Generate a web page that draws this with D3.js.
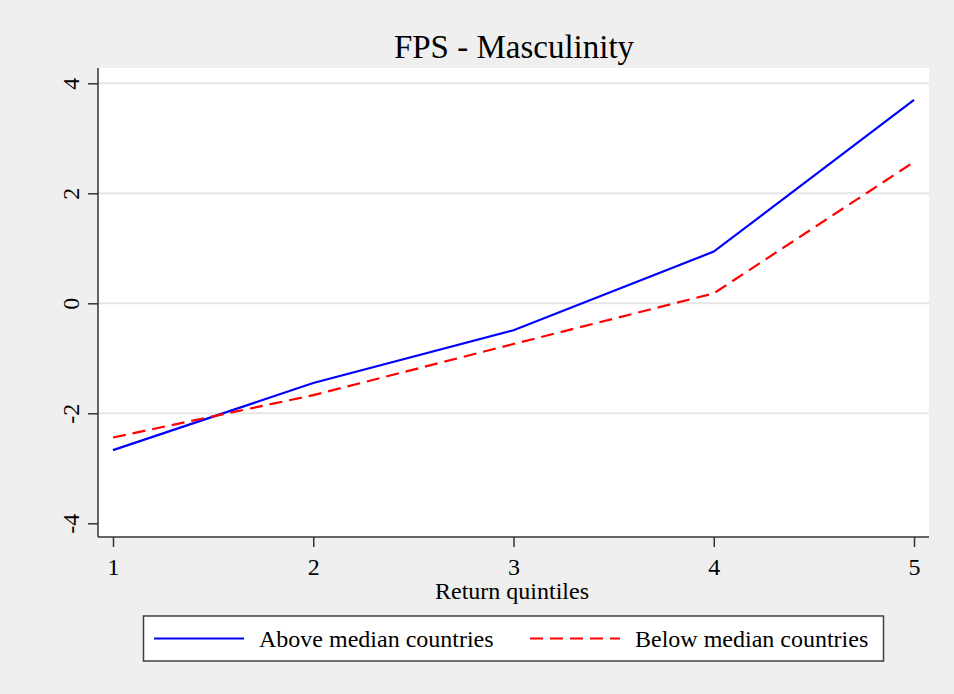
<!DOCTYPE html>
<html><head><meta charset="utf-8">
<script src="https://cdn.jsdelivr.net/npm/d3@7"></script>
<style>body{margin:0;background:#efefef}svg{display:block}</style>
</head><body>
<script>
const categories = [1, 2, 3, 4, 5];
const above = [-2.67, -1.45, -0.49, 0.94, 3.70];
const below = [-2.44, -1.67, -0.74, 0.18, 2.57];
const yTicks = [-4, -2, 0, 2, 4];
const yTickLabels = ["-4", "-2", "0", "2", "4"];
const gridTicks = [-2, 0, 2, 4];
const seriesNames = ["Above median countries", "Below median countries"];

const W = 954, H = 694;
const font = "'Liberation Serif','Times New Roman',serif";
const svg = d3.select("body").append("svg").attr("width", W).attr("height", H);
svg.append("rect").attr("width", W).attr("height", H).attr("fill", "#efefef");

const L = 98, R = 929, T = 68, B = 537;
const x = d3.scaleLinear().domain([1, 5]).range([113, 914]);
const y = d3.scaleLinear().domain([0, 4]).range([303.3, 83.3]);

svg.append("rect").attr("x", L).attr("y", T).attr("width", R - L).attr("height", B - T).attr("fill", "#fff");

svg.append("g").selectAll("line").data(gridTicks).join("line")
  .attr("x1", L).attr("x2", R).attr("y1", d => y(d)).attr("y2", d => y(d))
  .attr("stroke", "#e6e6e6").attr("stroke-width", 2);

// axes
const yAxis = svg.append("g").attr("transform", `translate(${L},0)`)
  .call(d3.axisLeft(y).tickValues(yTicks).tickSize(10).tickFormat((d, i) => yTickLabels[i]));
yAxis.select(".domain").attr("d", `M0,${T}V${B}`).attr("stroke", "#333").attr("stroke-width", 1.5);
yAxis.selectAll(".tick line").attr("stroke", "#333").attr("stroke-width", 1.5);
yAxis.selectAll(".tick text").attr("font-family", font).attr("font-size", 24).attr("fill", "#000")
  .attr("x", 0).attr("dy", 0).attr("text-anchor", "middle")
  .attr("transform", "translate(-19.5,0) rotate(-90)");

const xAxis = svg.append("g").attr("transform", `translate(0,${B})`)
  .call(d3.axisBottom(x).tickValues(categories).tickSize(10).tickFormat(d => String(d)));
xAxis.select(".domain").attr("d", `M${L},0H${R}`).attr("stroke", "#333").attr("stroke-width", 1.5);
xAxis.selectAll(".tick line").attr("stroke", "#333").attr("stroke-width", 1.5);
xAxis.selectAll(".tick text").attr("font-family", font).attr("font-size", 24).attr("fill", "#000")
  .attr("y", 38).attr("dy", 0);

// lines
const line = d3.line().x((d, i) => x(categories[i])).y(d => y(d));
svg.append("path").datum(above).attr("d", line).attr("fill", "none")
  .attr("stroke", "#0000ff").attr("stroke-width", 2.2);
svg.append("path").datum(below).attr("d", line).attr("fill", "none")
  .attr("stroke", "#ff0000").attr("stroke-width", 2.2).attr("stroke-dasharray", "13,7");

// title
svg.append("text").attr("x", 514).attr("y", 58).attr("text-anchor", "middle")
  .attr("font-family", font).attr("font-size", 33).text("FPS - Masculinity");
svg.append("text").attr("x", 512).attr("y", 598.5).attr("text-anchor", "middle")
  .attr("font-family", font).attr("font-size", 24).text("Return quintiles");

// legend
const lg = svg.append("g");
lg.append("rect").attr("x", 143.5).attr("y", 616).attr("width", 740).attr("height", 45)
  .attr("fill", "#fff").attr("stroke", "#404040").attr("stroke-width", 1.5);
const items = [
  {name: seriesNames[0], color: "#0000ff", dash: null, x0: 154, tx: 259},
  {name: seriesNames[1], color: "#ff0000", dash: "13,7", x0: 530, tx: 635}
];
items.forEach(it => {
  lg.append("line").attr("x1", it.x0).attr("x2", it.x0 + 90).attr("y1", 638.5).attr("y2", 638.5)
    .attr("stroke", it.color).attr("stroke-width", 2.2).attr("stroke-dasharray", it.dash);
  lg.append("text").attr("x", it.tx).attr("y", 647).attr("font-family", font)
    .attr("font-size", 24).text(it.name);
});
</script>
</body></html>
